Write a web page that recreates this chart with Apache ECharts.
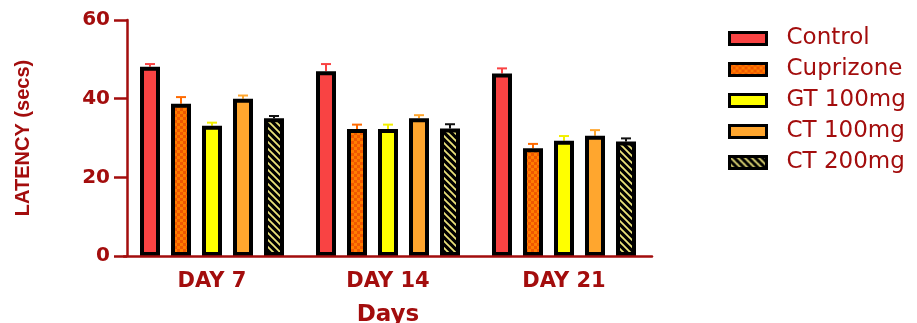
<!DOCTYPE html>
<html>
<head>
<meta charset="utf-8">
<script src="https://cdn.jsdelivr.net/npm/echarts@6/dist/echarts.min.js"></script>
<style>
  html, body { margin: 0; padding: 0; background: #fff; }
  #chart { width: 917px; height: 323px; }
</style>
</head>
<body>
<div id="chart"></div>
<script>
// Latency per group and day (mean with upper error)
const days = ['DAY 7', 'DAY 14', 'DAY 21'];
const groupNames = ['Control', 'Cuprizone', 'GT 100mg', 'CT 100mg', 'CT 200mg'];
const control = [48.1, 47.0, 46.4];
const cuprizone = [38.7, 32.3, 27.4];
const gt100 = [33.1, 32.3, 29.3];
const ct100 = [40.0, 35.0, 30.6];
const ct200 = [35.0, 32.4, 29.1];
const controlErr = [0.7, 1.8, 1.3];
const cuprizoneErr = [1.7, 1.1, 1.1];
const gt100Err = [0.8, 1.1, 1.2];
const ct100Err = [0.8, 0.8, 1.4];
const ct200Err = [0.6, 1.1, 0.8];
const yTicks = [0, 20, 40, 60];

const AXIS = '#a30d0d';
const BAR_W = 20, BORDER = 4, GAP = 11;

function checkerPattern() {
  const c = document.createElement('canvas');
  c.width = 6; c.height = 6;
  const g = c.getContext('2d');
  g.fillStyle = '#ff7d00'; g.fillRect(0, 0, 6, 6);
  g.fillStyle = '#f05800';
  g.fillRect(0, 0, 3, 3); g.fillRect(3, 3, 3, 3);
  return { image: c, repeat: 'repeat' };
}
function stripePattern() {
  const c = document.createElement('canvas');
  c.width = 7; c.height = 7;
  const g = c.getContext('2d');
  g.fillStyle = '#000'; g.fillRect(0, 0, 7, 7);
  g.strokeStyle = '#ebe27a'; g.lineWidth = 1.8;
  g.beginPath();
  g.moveTo(-2, -2); g.lineTo(9, 9);
  g.moveTo(-9, -2); g.lineTo(2, 9);
  g.moveTo(5, -2); g.lineTo(16, 9);
  g.stroke();
  return { image: c, repeat: 'repeat' };
}

const groups = [
  { vals: control, errs: controlErr, fill: '#f94343', errColor: '#f94343' },
  { vals: cuprizone, errs: cuprizoneErr, fill: checkerPattern(), errColor: '#ff6a00' },
  { vals: gt100, errs: gt100Err, fill: '#ffff00', errColor: '#f2ef00' },
  { vals: ct100, errs: ct100Err, fill: '#ffa62e', errColor: '#ffa62e' },
  { vals: ct200, errs: ct200Err, fill: stripePattern(), errColor: '#111' }
];

const series = [];
groups.forEach((grp, i) => {
  series.push({
    name: groupNames[i],
    type: 'bar',
    data: grp.vals,
    barWidth: BAR_W,
    barGap: (GAP / BAR_W * 100) + '%',
    itemStyle: { color: grp.fill, borderColor: '#000', borderWidth: BORDER },
    z: 3
  });
});
groups.forEach((grp, i) => {
  const shift = (i - 2) * (BAR_W + GAP);
  series.push({
    name: groupNames[i] + ' err',
    type: 'custom',
    z: 2,
    data: grp.vals.map((v, k) => [k, v, v + grp.errs[k]]),
    renderItem: function (params, api) {
      const base = api.coord([api.value(0), api.value(1)]);
      const top = api.coord([api.value(0), api.value(2)]);
      const x = base[0] + shift;
      const half = 5;
      return {
        type: 'group',
        children: [
          { type: 'line', shape: { x1: x, y1: base[1], x2: x, y2: top[1] },
            style: { stroke: grp.errColor, lineWidth: 2 } },
          { type: 'line', shape: { x1: x - half, y1: top[1], x2: x + half, y2: top[1] },
            style: { stroke: grp.errColor, lineWidth: 2 } }
        ]
      };
    }
  });
});

const chart = echarts.init(document.getElementById('chart'), null, { renderer: 'canvas' });
chart.setOption({
  animation: false,
  backgroundColor: '#fff',
  grid: { left: 124, right: 265, top: 20, bottom: 67, containLabel: false, outerBoundsMode: 'none' },
  legend: {
    data: groupNames,
    orient: 'vertical',
    left: 728,
    top: 27,
    padding: 0,
    itemWidth: 37,
    itemHeight: 12,
    itemGap: 8,
    icon: 'rect',
    itemStyle: { borderColor: '#000', borderWidth: 3 },
    textStyle: {
      color: AXIS, fontFamily: 'DejaVu Sans', fontSize: 23,
      lineHeight: 22, padding: [0, 0, 0, 15]
    }
  },
  xAxis: {
    type: 'category',
    data: days,
    z: 10,
    name: 'Days',
    nameLocation: 'middle',
    nameGap: 48,
    nameTextStyle: { color: AXIS, fontFamily: 'DejaVu Sans', fontWeight: 'bold', fontSize: 23 },
    axisLine: { lineStyle: { color: AXIS, width: 2.5 } },
    axisTick: { alignWithLabel: true, length: 10, lineStyle: { color: AXIS, width: 2.5 } },
    axisLabel: { color: AXIS, fontFamily: 'DejaVu Sans', fontWeight: 'bold', fontSize: 21, margin: 15 }
  },
  yAxis: {
    type: 'value',
    min: yTicks[0],
    max: yTicks[yTicks.length - 1],
    interval: yTicks[1] - yTicks[0],
    offset: -3,
    z: 10,
    name: 'LATENCY (secs)',
    nameLocation: 'middle',
    nameGap: 94,
    nameRotate: 90,
    nameTextStyle: {
      color: AXIS, fontFamily: '"Liberation Sans Narrow", "Liberation Sans", Arial',
      fontWeight: 'bold', fontSize: 20
    },
    splitLine: { show: false },
    axisLine: { show: true, lineStyle: { color: AXIS, width: 2.5 } },
    axisTick: { show: true, length: 13, lineStyle: { color: AXIS, width: 2.5 } },
    axisLabel: { color: AXIS, fontFamily: 'DejaVu Sans', fontWeight: 'bold', fontSize: 20, margin: 17 }
  },
  series: series
});
</script>
</body>
</html>
